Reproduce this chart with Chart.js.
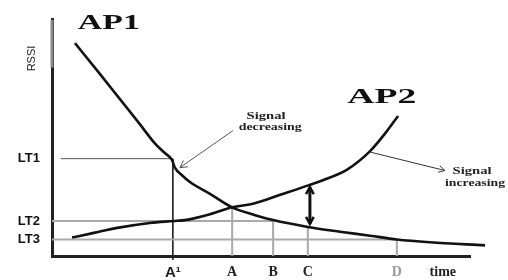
<!DOCTYPE html>
<html>
<head>
<meta charset="utf-8">
<script src="https://cdn.jsdelivr.net/npm/chart.js@4.4.1/dist/chart.umd.min.js"></script>
<style>
  html, body { margin: 0; padding: 0; background: #fff; }
  #wrap { width: 508px; height: 280px; }
</style>
</head>
<body>
<div id="wrap"><canvas id="rssiChart"></canvas></div>
<script>
// AP1 signal (falling) and AP2 signal (rising) over time
const ap1Time = [5.5, 11.5, 16.3, 21.1, 24.6, 27.0, 28.7, 29.4, 31.1, 33.0, 37.8, 43.1, 48.6, 52.9, 61.2, 68.9, 76.1, 82.5, 90.4, 103.6];
const ap1Rssi = [90.1, 77.0, 66.3, 55.6, 47.7, 43.6, 40.7, 37.4, 34.2, 31.3, 26.3, 20.6, 17.3, 15.2, 12.3, 10.3, 8.6, 7.0, 5.8, 4.5];
const ap2Time = [4.8, 10.3, 15.6, 23.4, 29.0, 31.8, 37.8, 43.1, 48.3, 54.6, 61.5, 64.8, 70.6, 76.1, 79.7, 82.8];
const ap2Rssi = [7.8, 9.9, 11.9, 14.0, 14.8, 15.2, 17.7, 20.6, 22.2, 25.9, 30.0, 32.1, 36.6, 44.4, 51.9, 59.3];

// RSSI thresholds
const thresholdLabels = ['LT1', 'LT2', 'LT3'];
const thresholds = [41.2, 14.8, 7.0];
const thresholdFrom = [2.1, 0, 0];
const thresholdTo = [28.9, 52.9, 82.5];

// time markers (where the curves hit a threshold / cross)
const markerLabels = ['A\u00B9', 'A', 'B', 'C', 'D'];
const markerTimes = [28.9, 43.1, 52.9, 61.2, 82.5];
const markerTops = [41.2, 20.6, 15.2, 12.3, 7.0];
const markerBottoms = [-1.6, 0, 0, 0, 0];

const xTickLabels = [...markerLabels, 'time'];
const xTickTimes = [...markerTimes, 93.5];

const toPts = (xs, ys) => xs.map((x, i) => ({ x: x, y: ys[i] }));

const guides = [];
thresholds.forEach((v, i) => {
  guides.push({
    data: [{ x: thresholdFrom[i], y: v }, { x: thresholdTo[i], y: v }],
    borderColor: i === 0 ? '#555' : '#a9a9a9',
    borderWidth: i === 0 ? 1 : 2
  });
});
markerTimes.forEach((t, i) => {
  guides.push({
    data: [{ x: t, y: markerTops[i] }, { x: t, y: markerBottoms[i] }],
    borderColor: i === 0 ? '#222' : '#a9a9a9',
    borderWidth: i === 0 ? 1 : 2
  });
});
guides.forEach(g => { g.pointRadius = 0; g.order = 2; g.clip = false; g.tension = 0; });

function stretchText(ctx, text, x, y, font, width, color) {
  ctx.save();
  ctx.font = font;
  const w = ctx.measureText(text).width;
  ctx.translate(x, y);
  ctx.scale(width / w, 1);
  ctx.fillStyle = color;
  ctx.textAlign = 'center';
  ctx.textBaseline = 'middle';
  ctx.fillText(text, 0, 0);
  ctx.restore();
}

function arrowHead(ctx, x0, y0, x1, y1, size) {
  const a = Math.atan2(y1 - y0, x1 - x0);
  ctx.beginPath();
  ctx.moveTo(x1 - size * Math.cos(a - 0.5), y1 - size * Math.sin(a - 0.5));
  ctx.lineTo(x1, y1);
  ctx.lineTo(x1 - size * Math.cos(a + 0.5), y1 - size * Math.sin(a + 0.5));
  ctx.stroke();
}

const notes = {
  id: 'notes',
  afterDatasetsDraw(chart) {
    const ctx = chart.ctx;
    const xs = chart.scales.x, ys = chart.scales.y;
    const px = v => xs.getPixelForValue(v);
    const py = v => ys.getPixelForValue(v);

    // grey top part of the RSSI axis
    ctx.save();
    ctx.strokeStyle = '#8a8a8a';
    ctx.lineWidth = 3;
    ctx.beginPath();
    ctx.moveTo(chart.chartArea.left, py(100));
    ctx.lineTo(chart.chartArea.left, py(79.8));
    ctx.stroke();
    ctx.restore();

    // curve names
    stretchText(ctx, 'AP1', px(13.6), py(98.4), 'bold 22px "Liberation Serif"', 62, '#111');
    stretchText(ctx, 'AP2', px(78.9), py(67.2), 'bold 22px "Liberation Serif"', 69, '#111');

    // axis name
    ctx.save();
    ctx.translate(px(-4.9), py(83.6));
    ctx.rotate(-Math.PI / 2);
    ctx.font = '11px "Liberation Sans"';
    ctx.fillStyle = '#222';
    ctx.textAlign = 'center';
    ctx.textBaseline = 'middle';
    ctx.fillText('RSSI', 0, 0);
    ctx.restore();

    // callouts
    stretchText(ctx, 'Signal', px(51.2), py(59.3), 'bold 10px "Liberation Serif"', 39, '#222');
    stretchText(ctx, 'decreasing', px(52.2), py(54.3), 'bold 10px "Liberation Serif"', 63, '#222');
    stretchText(ctx, 'Signal', px(100.5), py(36.0), 'bold 10px "Liberation Serif"', 39, '#222');
    stretchText(ctx, 'increasing', px(101.2), py(30.9), 'bold 10px "Liberation Serif"', 60, '#222');

    ctx.save();
    ctx.lineWidth = 1;
    ctx.strokeStyle = '#555';
    ctx.beginPath();
    ctx.moveTo(px(43.3), py(53.1));
    ctx.lineTo(px(30.6), py(37.4));
    ctx.stroke();
    arrowHead(ctx, px(43.3), py(53.1), px(30.6), py(37.4), 8);

    ctx.strokeStyle = '#333';
    ctx.beginPath();
    ctx.moveTo(px(76.1), py(44.0));
    ctx.lineTo(px(94.0), py(36.2));
    ctx.stroke();
    arrowHead(ctx, px(76.1), py(44.0), px(94.0), py(36.2), 7);

    // gap between the two signals at C
    ctx.strokeStyle = '#111';
    ctx.lineWidth = 3;
    ctx.beginPath();
    ctx.moveTo(px(61.7), py(29.2));
    ctx.lineTo(px(61.7), py(13.6));
    ctx.stroke();
    ctx.lineWidth = 2.5;
    arrowHead(ctx, px(61.7), py(13.6), px(61.7), py(29.2), 8);
    arrowHead(ctx, px(61.7), py(29.2), px(61.7), py(13.6), 8);
    ctx.restore();
  }
};

new Chart(document.getElementById('rssiChart'), {
  type: 'line',
  data: {
    datasets: [
      {
        label: 'AP1',
        data: toPts(ap1Time, ap1Rssi),
        borderColor: '#111',
        borderWidth: 2.6,
        pointRadius: 0,
        cubicInterpolationMode: 'monotone',
        clip: false,
        order: 0
      },
      {
        label: 'AP2',
        data: toPts(ap2Time, ap2Rssi),
        borderColor: '#111',
        borderWidth: 2.6,
        pointRadius: 0,
        cubicInterpolationMode: 'monotone',
        clip: false,
        order: 0
      },
      ...guides
    ]
  },
  options: {
    responsive: true,
    maintainAspectRatio: false,
    animation: false,
    layout: { padding: { left: 0, right: 38, top: 13, bottom: 0 } },
    plugins: { legend: { display: false }, tooltip: { enabled: false } },
    scales: {
      x: {
        type: 'linear',
        min: 0,
        max: 100,
        grid: { display: false, drawTicks: false },
        border: { display: true, color: '#222', width: 3 },
        afterBuildTicks: s => { s.ticks = xTickTimes.map(v => ({ value: v })); },
        afterFit: s => { s.height = 24; },
        ticks: {
          autoSkip: false,
          maxRotation: 0,
          padding: 8,
          callback: (v, i) => xTickLabels[i],
          font: c => c.index === 0
            ? { family: 'Liberation Sans', weight: 'bold', size: 15 }
            : { family: 'Liberation Serif', weight: 'bold', size: 14 },
          color: c => c.index === 4 ? '#999' : '#222'
        }
      },
      y: {
        min: 0,
        max: 100,
        grid: { display: false, drawTicks: false },
        border: { display: true, color: '#222', width: 3 },
        afterBuildTicks: s => { s.ticks = thresholds.map(v => ({ value: v })); },
        afterFit: s => { s.width = 52; },
        ticks: {
          padding: 12,
          callback: (v, i) => thresholdLabels[i],
          font: { family: 'Liberation Sans', weight: 'bold', size: 13 },
          color: '#111'
        }
      }
    }
  },
  plugins: [notes]
});
</script>
</body>
</html>
